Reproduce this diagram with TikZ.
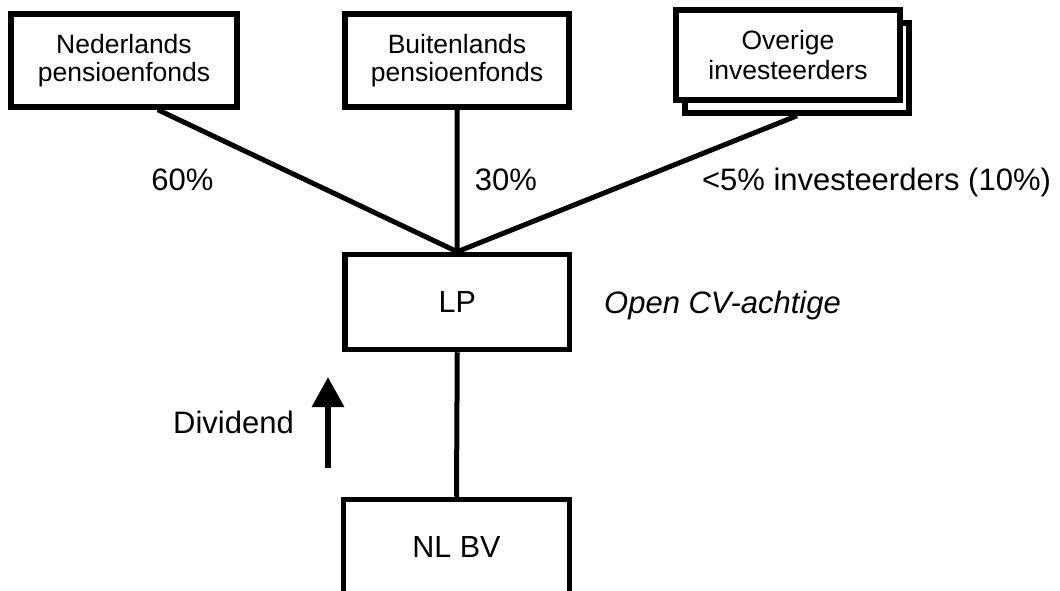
\documentclass[tikz,border=0pt]{standalone}
\usepackage{fontspec}
\setmainfont{Liberation Sans}
\usetikzlibrary{calc,arrows.meta}
\begin{document}
\begin{tikzpicture}[x=1pt,y=-1pt,
  box/.style={draw,line width=5.5pt,fill=white,inner sep=0pt,align=center,
    font=\fontsize{26.5}{30}\selectfont},
  bigbox/.style={draw,line width=5.5pt,fill=white,inner sep=0pt,align=center,
    font=\fontsize{30.5}{36}\selectfont},
  lbl/.style={inner sep=0pt,anchor=base,font=\fontsize{31}{37}\selectfont},
  conn/.style={line width=5pt}]
\fill[white] (0,0) rectangle (1060,591);
\useasboundingbox (0,0) rectangle (1060,591);
\node[box,minimum width=226pt,minimum height=93pt] (n1) at (124,60.5) {\raisebox{-2pt}{Nederlands}\\pensioenfonds};
\node[box,minimum width=224pt,minimum height=93pt] (n2) at (457,60.5) {\raisebox{-2pt}{Buitenlands}\\pensioenfonds};
\node[box,minimum width=224pt,minimum height=90pt] (n3b) at (797,68) {};
\node[box,minimum width=224pt,minimum height=90pt] (n3) at (788,55) {Overige\\investeerders};
\node[bigbox,minimum width=224.5pt,minimum height=95pt] (lp) at (457.25,302) {LP};
\node[bigbox,minimum width=226pt,minimum height=97pt,text depth=0pt] (bv) at (456.5,548) {\raisebox{2pt}{NL BV}};
\draw[conn] (lp.north) -- ($(n1.south west)!0.646!(n1.south east)$);
\draw[conn] (lp.north) -- (n2.south);
\draw[conn] (lp.north) -- (n3b.south);
\draw[conn] (lp.south) -- (bv.north);
\node[lbl] (l1) at (182.5,190) {60\%};
\node[lbl] (l2) at (506,190) {30\%};
\node[lbl] (l3) at (876.5,190) {<5\% investeerders (10\%)};
\node[lbl,font=\fontsize{31}{37}\selectfont\itshape] (l4) at (722.5,313) {Open CV-achtige};
\node[lbl] (l5) at (233.5,433) {Dividend};
\coordinate (a1) at (328,468);
\coordinate (a2) at (328,377);
\draw[line width=6pt,-{Triangle[length=30pt,width=31pt]}] (a1) -- (a2);
\end{tikzpicture}
\end{document}
